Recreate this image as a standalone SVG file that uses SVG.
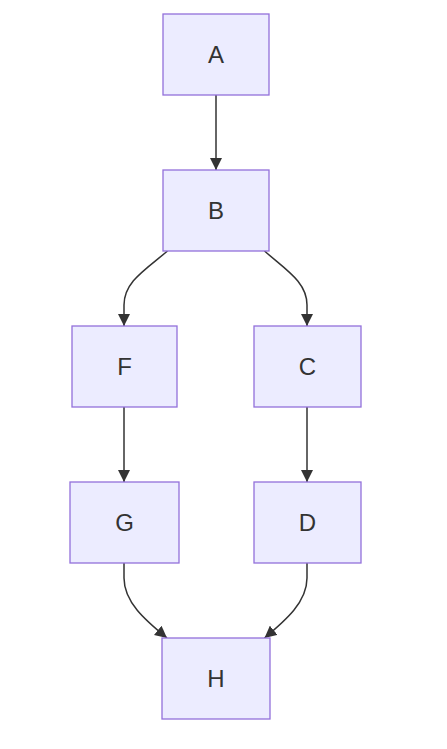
<svg xmlns="http://www.w3.org/2000/svg" width="447" height="749" viewBox="0 0 447 749">
<style>
.node rect{fill:#ECECFF;stroke:#9370DB;stroke-width:1.3px;}
.lbl{font-family:"Liberation Sans",Arial,sans-serif;font-size:24px;fill:#333333;text-anchor:middle;}
.edge{fill:none;stroke:#333333;stroke-width:1.5px;}
</style>
<defs>
<marker id="arrow" markerUnits="userSpaceOnUse" markerWidth="12" markerHeight="12" viewBox="0 0 10 10" refX="10" refY="5" orient="auto">
<path d="M0,0 L10,5 L0,10 z" fill="#333333"/>
</marker>
</defs>
<rect width="447" height="749" fill="#ffffff"/>
<g id="connectors">
<path class="edge" d="M216,95 L216,170" marker-end="url(#arrow)"/>
<path class="edge" d="M167.5,251 C145,270 124,282 124,305 L124,326" marker-end="url(#arrow)"/>
<path class="edge" d="M264.5,251 C286,270 307,282 307,305 L307,326" marker-end="url(#arrow)"/>
<path class="edge" d="M124,407 L124,482" marker-end="url(#arrow)"/>
<path class="edge" d="M307,407 L307,482" marker-end="url(#arrow)"/>
<path class="edge" d="M124,563 L124,578 C124,602 145,620 167,638" marker-end="url(#arrow)"/>
<path class="edge" d="M307,563 L307,578 C307,602 286,620 264.5,638" marker-end="url(#arrow)"/>
</g>
<g id="node-A" class="node"><rect x="163" y="14" width="106" height="81"/><text class="lbl" x="216" y="63">A</text></g>
<g id="node-B" class="node"><rect x="163" y="170" width="106" height="81"/><text class="lbl" x="216" y="219">B</text></g>
<g id="node-F" class="node"><rect x="72" y="326" width="105" height="81"/><text class="lbl" x="124.5" y="375">F</text></g>
<g id="node-C" class="node"><rect x="254" y="326" width="107" height="81"/><text class="lbl" x="307.5" y="375">C</text></g>
<g id="node-G" class="node"><rect x="70" y="482" width="109" height="81"/><text class="lbl" x="124.5" y="531">G</text></g>
<g id="node-D" class="node"><rect x="254" y="482" width="107" height="81"/><text class="lbl" x="307.5" y="531">D</text></g>
<g id="node-H" class="node"><rect x="162" y="638" width="108" height="81"/><text class="lbl" x="216" y="687">H</text></g>
</svg>
